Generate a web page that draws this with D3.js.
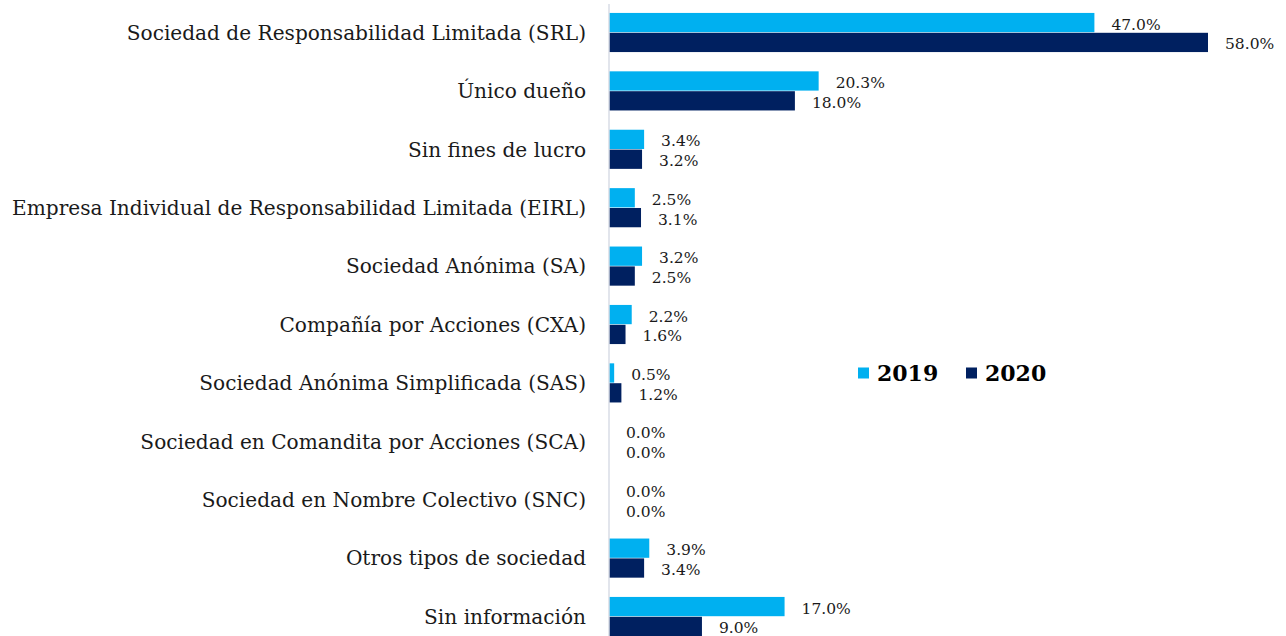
<!DOCTYPE html>
<html>
<head>
<meta charset="utf-8">
<script src="https://cdn.jsdelivr.net/npm/d3@7"></script>
<style>
  body { margin: 0; background: #fff; }
  svg { display: block; }
  .cat { font-family: "DejaVu Serif", serif; fill: #1a1a1a; }
  .val { font-family: "DejaVu Serif", serif; fill: #1a1a1a; }
  .leg { font-family: "DejaVu Serif", serif; font-weight: bold; fill: #000; }
</style>
</head>
<body>
<div id="chart"></div>
<script>
var categories = [
  "Sociedad de Responsabilidad Limitada (SRL)",
  "Único dueño",
  "Sin fines de lucro",
  "Empresa Individual de Responsabilidad Limitada (EIRL)",
  "Sociedad Anónima (SA)",
  "Compañía por Acciones (CXA)",
  "Sociedad Anónima Simplificada (SAS)",
  "Sociedad en Comandita por Acciones (SCA)",
  "Sociedad en Nombre Colectivo (SNC)",
  "Otros tipos de sociedad",
  "Sin información"
];
var years = ["2019", "2020"];
var values2019 = [47.0, 20.3, 3.4, 2.5, 3.2, 2.2, 0.5, 0.0, 0.0, 3.9, 17.0];
var values2020 = [58.0, 18.0, 3.2, 3.1, 2.5, 1.6, 1.2, 0.0, 0.0, 3.4, 9.0];
var colors = ["#00b0f0", "#002060"];

var width = 1286, height = 636;

var svg = d3.select("#chart").append("svg")
    .attr("width", width)
    .attr("height", height);

var x = d3.scaleLinear().domain([0, 58]).range([609, 1208]);

var y = d3.scaleBand()
    .domain(categories)
    .range([3.3, 645.7])
    .paddingInner(0.33)
    .paddingOuter(0.165);

var ySub = d3.scaleBand()
    .domain(years)
    .range([0, y.bandwidth()])
    .paddingInner(0.03);

var rows = categories.map(function(c, i) {
  return { cat: c, vals: [values2019[i], values2020[i]] };
});

// category labels
var catLabels = svg.append("g").selectAll("text")
  .data(categories)
  .join("text")
    .attr("class", "cat")
    .attr("x", 586)
    .attr("y", function(d) { return y(d) + y.bandwidth() / 2; })
    .attr("dy", "0.36em")
    .attr("text-anchor", "end")
    .style("font-size", "19px")
    .text(function(d) { return d; });

// fit font to the longest label width seen in the picture
var longest = catLabels.filter(function(d, i) { return i === 3; }).node();
var fs = 19 * 574 / longest.getComputedTextLength();
catLabels.style("font-size", fs + "px");

var groups = svg.append("g").selectAll("g")
  .data(rows)
  .join("g")
    .attr("transform", function(d) { return "translate(0," + y(d.cat) + ")"; });

groups.selectAll("rect")
  .data(function(d) { return d.vals.map(function(v, j) { return { year: years[j], v: v, j: j }; }); })
  .join("rect")
    .attr("x", x(0))
    .attr("y", function(d) { return ySub(d.year); })
    .attr("width", function(d) { return x(d.v) - x(0); })
    .attr("height", ySub.bandwidth())
    .attr("fill", function(d) { return colors[d.j]; });

groups.selectAll("text")
  .data(function(d) { return d.vals.map(function(v, j) { return { year: years[j], v: v, j: j }; }); })
  .join("text")
    .attr("class", "val")
    .attr("x", function(d) { return x(d.v) + 17; })
    .attr("y", function(d) { return ySub(d.year) + ySub.bandwidth() / 2 + 1.5; })
    .attr("dy", "0.36em")
    .style("font-size", "15.5px")
    .text(function(d) { return d.v.toFixed(1) + "%"; });

// axis line
svg.append("line")
    .attr("x1", x(0)).attr("x2", x(0))
    .attr("y1", 4).attr("y2", height)
    .attr("stroke", "#d9dde6")
    .attr("stroke-width", 1.5);

// legend
var legend = svg.append("g").attr("transform", "translate(858,373)");
var legX = [0, 108];
years.forEach(function(yr, i) {
  legend.append("rect")
      .attr("x", legX[i]).attr("y", -5.5)
      .attr("width", 11).attr("height", 11)
      .attr("fill", colors[i]);
  legend.append("text")
      .attr("class", "leg")
      .attr("x", legX[i] + 19)
      .attr("y", 0)
      .attr("dy", "0.36em")
      .style("font-size", "22px")
      .text(yr);
});
</script>
</body>
</html>
